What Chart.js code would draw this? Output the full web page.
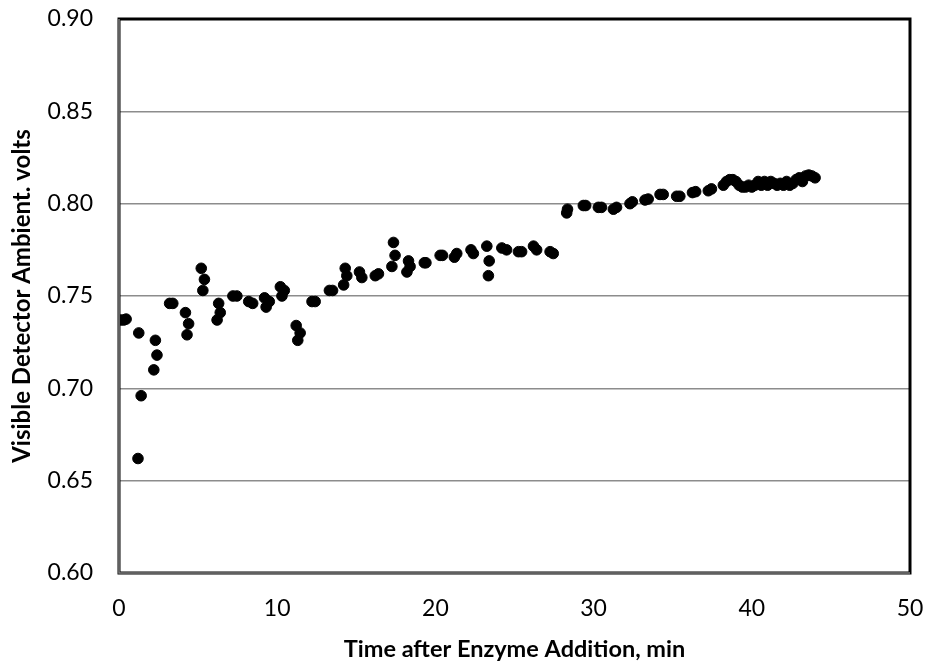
<!DOCTYPE html>
<html>
<head>
<meta charset="utf-8">
<script src="https://cdn.jsdelivr.net/npm/chart.js@4/dist/chart.umd.min.js"></script>
<style>
  html, body { margin: 0; padding: 0; background: #fff; }
  #wrap { width: 932px; height: 664px; }
</style>
</head>
<body>
<div id="wrap"><canvas id="chart" width="932" height="664"></canvas></div>
<script>
const timeMin = [
  0.1, 0.3, 0.45, 1.2, 1.25, 1.4, 2.2, 2.3, 2.4, 3.2, 3.4, 4.2, 4.3, 4.4,
  5.2, 5.3, 5.4, 6.2, 6.3, 6.4, 7.2, 7.45, 8.2, 8.45, 9.2, 9.3, 9.5,
  10.2, 10.3, 10.45, 11.2, 11.3, 11.45, 12.2, 12.4, 13.3, 13.5,
  14.2, 14.3, 14.4, 15.2, 15.35, 16.2, 16.4, 17.25, 17.35, 17.45,
  18.2, 18.3, 18.4, 19.3, 19.4, 20.3, 20.45, 21.2, 21.35, 22.25, 22.4,
  23.25, 23.35, 23.4, 24.2, 24.5, 25.25, 25.45, 26.2, 26.4, 27.25, 27.45,
  28.3, 28.35, 29.35, 29.5, 30.3, 30.5, 31.25, 31.45, 32.3, 32.45,
  33.25, 33.45, 34.2, 34.4, 35.25, 35.45, 36.25, 36.45, 37.25, 37.45,
  38.2, 38.4, 38.6, 38.8, 39.0, 39.2, 39.4, 39.6, 39.8, 40.0, 40.2,
  40.4, 40.6, 40.8, 41.0, 41.2, 41.4, 41.6, 41.8, 42.0, 42.2, 42.4,
  42.6, 42.8, 43.0, 43.2, 43.4, 43.6, 43.8, 44.0
];
const volts = [
  0.737, 0.737, 0.7375, 0.662, 0.730, 0.696, 0.710, 0.726, 0.718, 0.746, 0.746, 0.741, 0.729, 0.735,
  0.765, 0.753, 0.759, 0.737, 0.746, 0.741, 0.750, 0.750, 0.747, 0.746, 0.749, 0.744, 0.747,
  0.755, 0.750, 0.753, 0.734, 0.726, 0.730, 0.747, 0.747, 0.753, 0.753,
  0.756, 0.765, 0.761, 0.763, 0.760, 0.761, 0.762, 0.766, 0.779, 0.772,
  0.763, 0.769, 0.766, 0.768, 0.768, 0.772, 0.772, 0.771, 0.773, 0.775, 0.773,
  0.777, 0.761, 0.769, 0.776, 0.775, 0.774, 0.774, 0.777, 0.775, 0.774, 0.773,
  0.795, 0.797, 0.799, 0.799, 0.798, 0.798, 0.797, 0.798, 0.800, 0.801,
  0.802, 0.8025, 0.805, 0.805, 0.804, 0.804, 0.806, 0.8065, 0.807, 0.808,
  0.810, 0.812, 0.813, 0.813, 0.812, 0.810, 0.809, 0.809, 0.810, 0.809, 0.810,
  0.812, 0.810, 0.812, 0.810, 0.812, 0.811, 0.810, 0.811, 0.810, 0.812, 0.810,
  0.811, 0.813, 0.814, 0.812, 0.815, 0.8155, 0.815, 0.814
];
const xTicks = [0, 10, 20, 30, 40, 50];
const yTicks = [0.60, 0.65, 0.70, 0.75, 0.80, 0.85, 0.90];

const FONT = 'Lato, "Open Sans", sans-serif';

// black frame round the plot area, gray lines on the left and bottom
const frame = {
  id: 'frame',
  afterDatasetsDraw(chart) {
    const { ctx, chartArea: a } = chart;
    ctx.save();
    ctx.strokeStyle = '#000';
    ctx.lineWidth = 3;
    ctx.strokeRect(a.left, a.top, a.right - a.left, a.bottom - a.top);
    ctx.strokeStyle = '#808080';
    ctx.lineWidth = 1.5;
    ctx.beginPath();
    ctx.moveTo(a.left, a.top);
    ctx.lineTo(a.left, a.bottom);
    ctx.lineTo(a.right, a.bottom);
    ctx.stroke();
    ctx.restore();
  }
};

new Chart(document.getElementById('chart'), {
  type: 'scatter',
  data: {
    datasets: [{
      data: timeMin.map((t, i) => ({ x: t, y: volts[i] })),
      backgroundColor: '#000',
      borderColor: '#000',
      pointRadius: 5.3,
      pointHoverRadius: 5.3
    }]
  },
  options: {
    responsive: false,
    animation: false,
    layout: { padding: { top: 19, right: 22, left: 0, bottom: 0 } },
    plugins: { legend: { display: false }, tooltip: { enabled: false } },
    scales: {
      x: {
        type: 'linear',
        min: 0, max: 50,
        afterBuildTicks: (s) => { s.ticks = xTicks.map((v) => ({ value: v })); },
        afterFit: (s) => { s.height = 91; s.paddingLeft = 0; s.paddingRight = 0; },
        grid: { display: false, drawTicks: false },
        border: { display: false },
        ticks: { color: '#000', font: { family: FONT, size: 23 }, padding: 22 },
        title: {
          display: true,
          text: 'Time after Enzyme Addition, min',
          color: '#000',
          font: { family: FONT, size: 23.5, weight: 'bold' },
          padding: { top: 0, bottom: 0 }
        }
      },
      y: {
        min: 0.60, max: 0.90,
        afterBuildTicks: (s) => { s.ticks = yTicks.map((v) => ({ value: v })); },
        afterFit: (s) => { s.width = 119; s.paddingTop = 0; s.paddingBottom = 0; },
        grid: { color: '#8c8c8c', lineWidth: 1.5, drawTicks: false },
        border: { display: false },
        ticks: {
          color: '#000',
          font: { family: FONT, size: 23 },
          padding: 26,
          callback: (v) => v.toFixed(2)
        },
        title: {
          display: true,
          text: 'Visible Detector Ambient. volts',
          color: '#000',
          font: { family: FONT, size: 24, weight: 'bold' },
          padding: { top: 8, bottom: 0 }
        }
      }
    }
  },
  plugins: [frame]
});
</script>
</body>
</html>
